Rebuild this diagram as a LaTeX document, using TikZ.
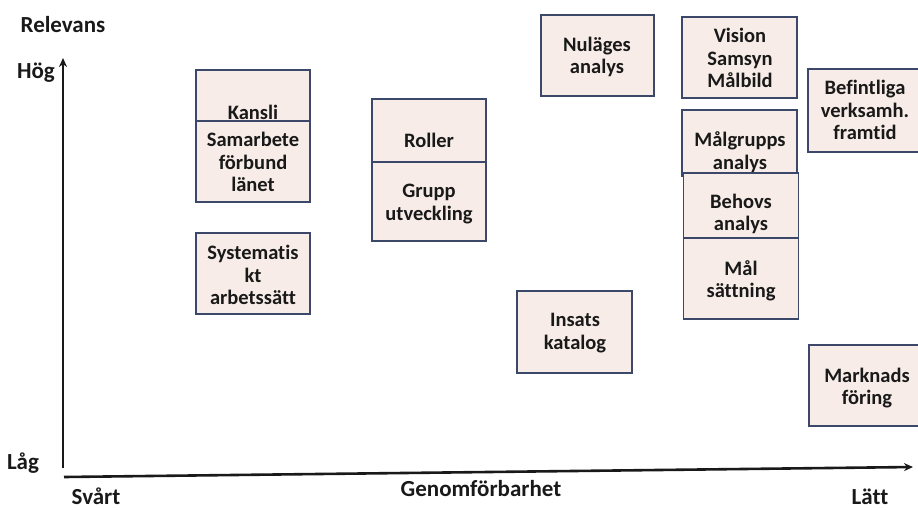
\documentclass[tikz,border=0pt]{standalone}
\usepackage{fontspec}
\setmainfont{Carlito}[Ligatures=NoCommon]
\usetikzlibrary{arrows.meta}
\definecolor{boxfill}{RGB}{247,236,231}
\definecolor{boxline}{RGB}{60,72,105}
\definecolor{ink}{RGB}{25,25,25}
\tikzset{
  box/.style={draw=boxline, fill=boxfill, line width=1.3pt, rectangle, inner sep=0pt},
  lbl/.style={align=center, text=ink, font=\bfseries\fontsize{20.5}{22.5}\selectfont, inner sep=0pt},
  axlbl/.style={text=ink, font=\bfseries\fontsize{23}{26}\selectfont, inner sep=0pt},
  axis/.style={line width=2.6pt, draw=ink, -{Stealth[length=9pt,width=8pt]}}
}
\begin{document}
\begin{tikzpicture}[x=1pt,y=-1pt]
\useasboundingbox (0,0) rectangle (918,509);
% axes
\coordinate (yb) at (63,468);
\coordinate (yt) at (63,58);
\coordinate (xa) at (64,477);
\coordinate (xe) at (913,467);
\draw[axis] (yb) -- (yt);
\draw[axis] (xa) -- (xe);
\node[axlbl] (rel) at (63,25) {Relevans};
\node[axlbl] (hog) at (36,73) {Hög};
\node[axlbl] (lag) at (23,463) {Låg};
\node[axlbl, anchor=base] (svart) at (96,504) {Svårt};
\node[axlbl] (gen) at (481,489) {Genomförbarhet};
\node[axlbl] (latt) at (870,497) {Lätt};
% Kansli / Samarbete
\node[box, minimum width=114pt, minimum height=51pt] (kansli) at (253,95.5) {};
\node[box, minimum width=114pt, minimum height=81pt] (samarb) at (253,161.5) {};
\node[lbl] (kansli-t) at (253,112) {Kansli};
\node[lbl] (samarb-t) at (253,162) {Samarbete\\förbund\\länet};
% Systematiskt
\node[box, minimum width=114pt, minimum height=81pt] (syst) at (253,273.5) {};
\node[lbl] (syst-t) at (253,275) {Systematis\\kt\\arbetssätt};
% Roller / Grupp
\node[box, minimum width=114pt, minimum height=63pt] (roller) at (429,130.5) {};
\node[box, minimum width=114pt, minimum height=79pt] (grupp) at (429,201.5) {};
\node[lbl] (roller-t) at (429,140) {Roller};
\node[lbl] (grupp-t) at (429,204) {Grupp\\utveckling};
% Nulägesanalys
\node[box, minimum width=113pt, minimum height=81pt] (nul) at (597.5,55.5) {};
\node[lbl] (nul-t) at (597,57) {Nuläges\\analys};
% Vision
\node[box, minimum width=115pt, minimum height=81pt] (vis) at (739.5,57.5) {};
\node[lbl] (vis-t) at (740,58) {Vision\\Samsyn\\Målbild};
% Befintliga
\node[box, minimum width=114pt, minimum height=83pt] (bef) at (865,110.5) {};
\node[lbl] (bef-t) at (865,110) {Befintliga\\verksamh.\\framtid};
% Målgrupps
\node[box, minimum width=115pt, minimum height=66pt] (malg) at (739.5,143) {};
\node[lbl] (malg-t) at (740,152) {Målgrupps\\analys};
% Behovs / Mål
\node[box, minimum width=115pt, minimum height=65pt] (beh) at (741,205.5) {};
\node[box, minimum width=115pt, minimum height=81pt] (mal) at (741,278.5) {};
\node[lbl] (beh-t) at (741,214) {Behovs\\analys};
\node[lbl] (mal-t) at (741,281) {Mål\\sättning};
% Insats
\node[box, minimum width=115pt, minimum height=82pt] (ins) at (574.5,332) {};
\node[lbl] (ins-t) at (575,333) {Insats\\katalog};
% Marknads
\node[box, minimum width=116pt, minimum height=81pt] (mark) at (867,385.5) {};
\node[lbl] (mark-t) at (867,388) {Marknads\\föring};
\end{tikzpicture}
\end{document}
